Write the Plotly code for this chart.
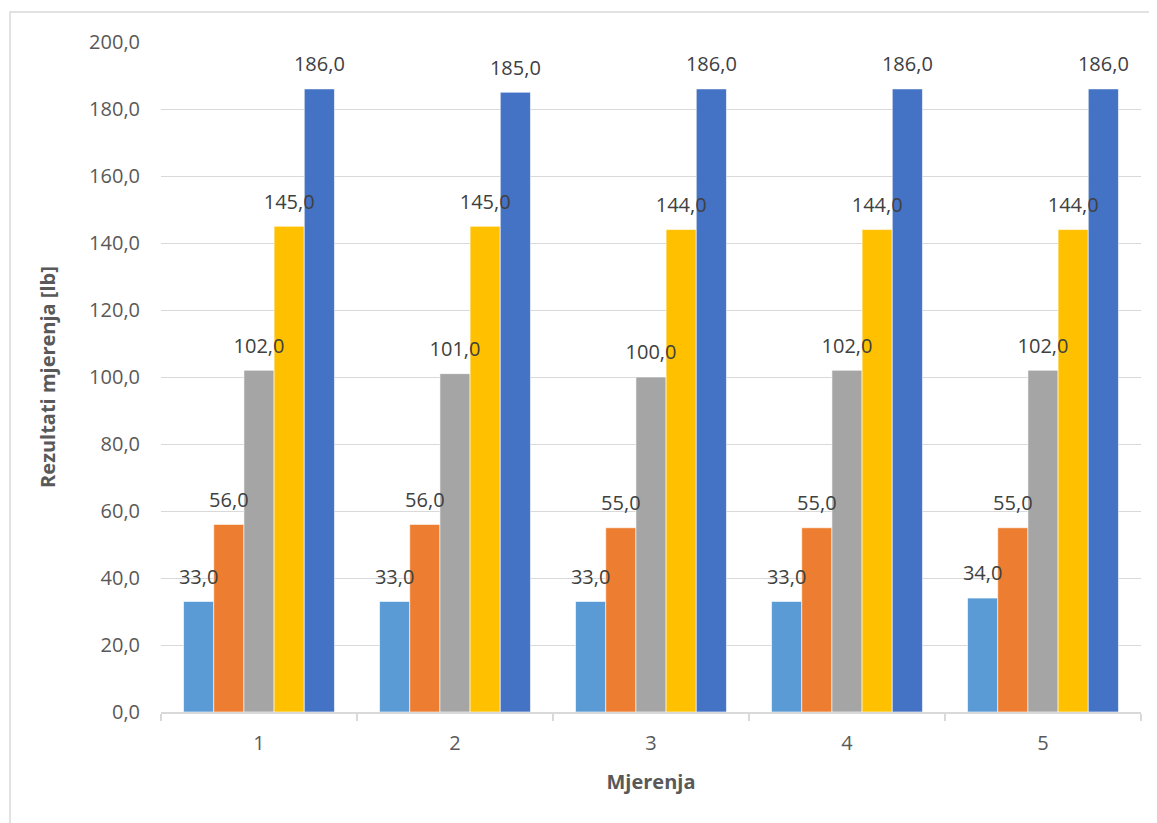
import plotly.graph_objects as go

categories = ["1", "2", "3", "4", "5"]
series_1 = [33, 33, 33, 33, 34]
series_2 = [56, 56, 55, 55, 55]
series_3 = [102, 101, 100, 102, 102]
series_4 = [145, 145, 144, 144, 144]
series_5 = [186, 185, 186, 186, 186]
series_names = ["Serija 1", "Serija 2", "Serija 3", "Serija 4", "Serija 5"]
colors = ["#5B9BD5", "#ED7D31", "#A5A5A5", "#FFC000", "#4472C4"]
y_ticks = [0, 20, 40, 60, 80, 100, 120, 140, 160, 180, 200]

FONT = "Open Sans"
all_series = [series_1, series_2, series_3, series_4, series_5]
fig = go.Figure()
# bars
for i, (name, vals, col) in enumerate(zip(series_names, all_series, colors)):
    fig.add_trace(go.Bar(
        x=categories, y=vals, name=name, offsetgroup=str(i),
        marker=dict(color=col, line=dict(color="white", width=0.6)),
        hoverinfo="skip",
    ))
# labels (drawn on top of all bars)
for i, (name, vals) in enumerate(zip(series_names, all_series)):
    fig.add_trace(go.Bar(
        x=categories, y=vals, name=name + " labels", offsetgroup=str(i),
        marker=dict(color="rgba(0,0,0,0)", line=dict(width=0)),
        texttemplate="<span style='font-size:20px'>%{y:.1f}</span><br>&nbsp;",
        textposition="outside",
        textangle=0,
        constraintext="none",
        cliponaxis=False,
        textfont=dict(family=FONT, size=9, color="#404040"),
        hoverinfo="skip", showlegend=False,
    ))

fig.update_layout(
    width=1149, height=815,
    barmode="group", bargap=0.23, bargroupgap=0,
    separators=", ",
    showlegend=False,
    plot_bgcolor="white", paper_bgcolor="white",
    margin=dict(l=153, r=16, t=34, b=111, autoexpand=False),
    font=dict(family=FONT, size=20, color="#595959"),
    xaxis=dict(
        type="category",
        showline=True, linecolor="#D9D9D9", linewidth=1.5,
        ticks="outside", tickson="boundaries", ticklen=7, tickcolor="#D9D9D9",
        tickwidth=1.5,
        ticklabelstandoff=12,
        tickfont=dict(family=FONT, size=20, color="#595959"),
        showgrid=False, automargin=False,
        title=dict(text="<b>Mjerenja</b>", font=dict(family=FONT, size=20, color="#595959"),
                   standoff=20),
    ),
    yaxis=dict(
        range=[0, 200], tickvals=y_ticks, tickformat=".1f",
        showgrid=True, gridcolor="#D9D9D9", gridwidth=1,
        zeroline=False, showline=False, ticks="",
        ticklabelstandoff=20,
        tickfont=dict(family=FONT, size=20, color="#595959"),
        automargin=False,
        title=dict(text="<b>Rezultati mjerenja [lb]</b>",
                   font=dict(family=FONT, size=20, color="#595959"), standoff=28),
    ),
    shapes=[dict(type="rect", xref="paper", yref="paper",
                 x0=-0.15408, x1=1.0296, y0=-0.191, y1=1.04478,
                 line=dict(color="#D9D9D9", width=1.5), fillcolor="rgba(0,0,0,0)",
                 layer="below")],
)

fig.write_html("out.html")
